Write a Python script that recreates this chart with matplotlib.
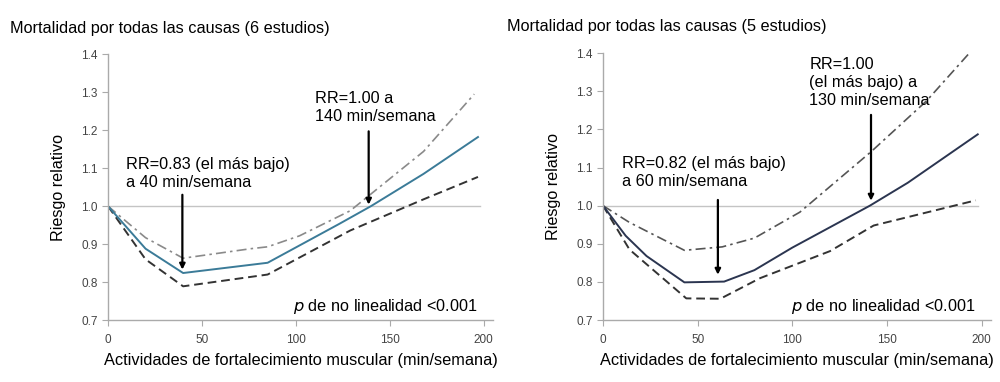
import matplotlib.pyplot as plt

plt.rcParams['font.family'] = ['Liberation Sans', 'DejaVu Sans']

# panel izquierdo (6 estudios)
titulo_izq = "Mortalidad por todas las causas (6 estudios)"
x_rr_izq = [0, 20, 40, 85, 123, 140, 168, 197]
y_rr_izq = [1.0, 0.888, 0.824, 0.851, 0.953, 1.0, 1.085, 1.182]
x_sup_izq = [0, 20, 40, 76, 85, 102, 129, 168, 195]
y_sup_izq = [1.0, 0.917, 0.863, 0.888, 0.893, 0.922, 0.988, 1.144, 1.295]
x_inf_izq = [0, 20, 40, 85, 129, 168, 197]
y_inf_izq = [1.0, 0.86, 0.789, 0.82, 0.936, 1.018, 1.077]

# panel derecho (5 estudios)
titulo_der = "Mortalidad por todas las causas (5 estudios)"
x_rr_der = [0, 12, 23, 43, 64, 80, 100, 141, 161, 198]
y_rr_der = [1.0, 0.921, 0.868, 0.799, 0.801, 0.831, 0.89, 1.0, 1.06, 1.187]
x_sup_der = [0, 14, 43, 63, 80, 104, 142, 171, 195]
y_sup_der = [1.0, 0.956, 0.883, 0.892, 0.915, 0.983, 1.143, 1.275, 1.408]
x_inf_der = [0, 14, 44, 62, 83, 120, 143, 197]
y_inf_der = [1.0, 0.885, 0.757, 0.756, 0.81, 0.881, 0.948, 1.014]

xticks = [0, 50, 100, 150, 200]
yticks = [0.7, 0.8, 0.9, 1.0, 1.1, 1.2, 1.3, 1.4]

fig = plt.figure(figsize=(10, 3.82), dpi=100)
ax1 = fig.add_axes([0.108, 0.162, 0.385, 0.696])
ax2 = fig.add_axes([0.603, 0.162, 0.388, 0.699])


def panel(ax, titulo, tx0, xs, ys, xu, yu, xl, yl, color, color_sup, notas):
    ax.axhline(1.0, xmin=0, xmax=198 / 205, color='#c4c4c4', lw=1.0, zorder=1)
    ax.plot(xu, yu, color=color_sup, lw=1.2, ls=(0, (6, 2.5, 1.5, 2.5)))
    ax.plot(xl, yl, color='#333333', lw=1.4, ls=(0, (4.5, 2.5)))
    ax.plot(xs, ys, color=color, lw=1.4)
    ax.set_xlim(0, 205)
    ax.set_ylim(0.7, 1.4)
    ax.set_xticks(xticks)
    ax.set_yticks(yticks)
    ax.set_xticklabels([str(t) for t in xticks])
    ax.set_yticklabels(['%.1f' % t for t in yticks])
    ax.tick_params(labelsize=8.5, colors='#444444', length=4, width=0.8)
    ax.tick_params(axis='both', color='#aaaaaa')
    ax.tick_params(axis='x', pad=6)
    for s in ['top', 'right']:
        ax.spines[s].set_visible(False)
    for s in ['left', 'bottom']:
        ax.spines[s].set_color('#aaaaaa')
        ax.spines[s].set_linewidth(1.0)
    ax.set_xlabel("Actividades de fortalecimiento muscular (min/semana)", fontsize=11.8, labelpad=5)
    ax.set_ylabel("Riesgo relativo", fontsize=11.6, labelpad=11)
    ax.text(tx0, 1.098, titulo, transform=ax.transAxes, fontsize=11.7, va='center', ha='left')
    for texto, tx, ty, ax_x, y0, y1 in notas:
        ax.text(tx, ty, texto, fontsize=11.7, va='top', ha='left', linespacing=1.24)
        ax.annotate('', xy=(ax_x, y1), xytext=(ax_x, y0),
                    arrowprops=dict(arrowstyle='-|>', color='black', lw=1.6,
                                    mutation_scale=8, shrinkA=0, shrinkB=0))
    ax.text(197, 0.712, r"$\mathit{p}$ de no linealidad <0.001", fontsize=11.7,
            ha='right', va='bottom')


panel(ax1, titulo_izq, -0.2545, x_rr_izq, y_rr_izq, x_sup_izq, y_sup_izq, x_inf_izq, y_inf_izq,
      '#3b7b98', '#8a8a8a',
      [("RR=0.83 (el más bajo)\na 40 min/semana", 9.5, 1.13, 39.6, 1.03, 0.833),
       ("RR=1.00 a\n140 min/semana", 110.4, 1.302, 138.8, 1.197, 1.004)])
panel(ax2, titulo_der, -0.247, x_rr_der, y_rr_der, x_sup_der, y_sup_der, x_inf_der, y_inf_der,
      '#2b3550', '#555555',
      [("RR=0.82 (el más bajo)\na 60 min/semana", 10, 1.13, 60.7, 1.015, 0.819),
       ("RR=1.00\n(el más bajo) a\n130 min/semana", 109, 1.39, 141.6, 1.238, 1.013)])

fig.savefig('out.png', dpi=100, facecolor='white')
